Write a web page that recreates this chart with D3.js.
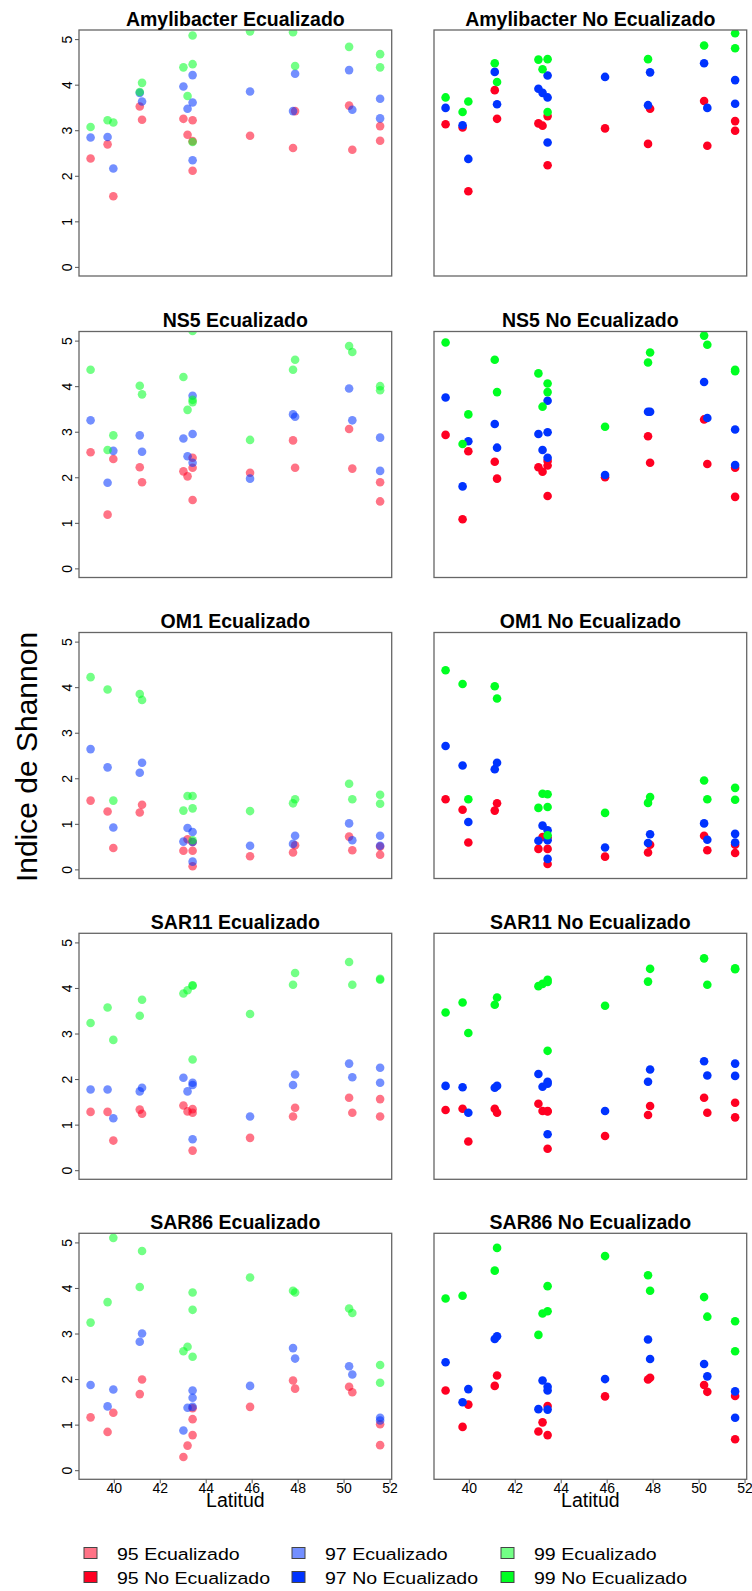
<!DOCTYPE html>
<html lang="en">
  <head>
    <meta charset="utf-8" />
    <title>Indice de Shannon por latitud</title>
    <script src="https://cdnjs.cloudflare.com/ajax/libs/d3/7.8.5/d3.min.js"></script>
    <style>
      body { margin: 0; background: #fff; }
      svg text { font-family: "Liberation Sans", Arial, sans-serif; fill: #000; }
      .box { fill: none; stroke: #666; stroke-width: 1.3px; }
      .title { font-weight: bold; font-size: 19.5px; }
      .axis text { font-size: 14px; }
      .axis line { stroke: #555; }
      .axis .domain { display: none; }
    </style>
  </head>
  <body>
    <svg id="chart" width="752" height="1591"></svg>
    <script>
      // station latitudes (same for every panel)
      const lat = [38.99, 39.73, 39.98, 41.13, 41.23, 43.03, 43.21, 43.43, 43.43, 43.43,
                   45.93, 47.8, 47.89, 50.24, 50.38, 51.59, 51.59];
      const groups = ["Amylibacter", "NS5", "OM1", "SAR11", "SAR86"];
      const modes = ["Ecualizado", "No Ecualizado"];
      const levels = ["95", "97", "99"];
      const yTicks = [0, 1, 2, 3, 4, 5];
      const xTicks = [40, 42, 44, 46, 48, 50, 52];

      // Amylibacter
      const amyEq95 = [2.38, 2.69, 1.55, 3.52, 3.23, 3.25, 2.90, 3.22, 2.11, 2.76, 2.88, 2.61, 3.42, 3.54, 2.57, 3.09, 2.77];
      const amyEq97 = [2.84, 2.85, 2.16, 3.82, 3.63, 3.96, 3.47, 4.21, 3.61, 2.34, 3.85, 3.42, 4.24, 4.32, 3.45, 3.69, 3.26];
      const amyEq99 = [3.07, 3.22, 3.17, 3.84, 4.04, 4.38, 3.75, 5.08, 4.45, 2.74, 5.17, 5.15, 4.41, 4.83, null, 4.67, 4.38];
      const amyNo95 = [3.13, 3.06, 1.66, 3.88, 3.25, 3.15, 3.10, 3.31, 2.23, null, 3.04, 2.70, 3.47, 3.64, 2.66, 3.20, 2.99];
      const amyNo97 = [3.49, 3.11, 2.37, 4.28, 3.57, 3.91, 3.82, 4.20, 3.72, 2.73, 4.17, 3.55, 4.27, 4.47, 3.49, 4.10, 3.58];
      const amyNo99 = [3.72, 3.40, 3.63, 4.47, 4.06, 4.55, 4.34, 4.56, 3.40, null, null, 4.56, null, 4.86, null, 5.13, 4.80];
      // NS5
      const ns5Eq95 = [2.55, 1.18, 2.40, 2.22, 1.89, 2.13, 2.02, 2.43, 2.21, 1.50, 2.10, 2.81, 2.21, 3.06, 2.19, 1.89, 1.47];
      const ns5Eq97 = [3.25, 1.88, 2.58, 2.92, 2.56, 2.85, 2.46, 3.79, 2.95, 2.32, 1.97, 3.38, 3.33, 3.95, 3.25, 2.87, 2.14];
      const ns5Eq99 = [4.36, 2.60, 2.92, 4.01, 3.82, 4.20, 3.48, 5.21, 3.70, 3.65, 2.82, 4.36, 4.58, 4.88, 4.75, 4.00, 3.91];
      const ns5No95 = [2.93, 1.08, 2.57, 2.34, 1.97, 2.22, 2.12, 2.36, 2.26, 1.59, 2.00, 2.90, 2.32, 3.27, 2.29, 2.21, 1.57];
      const ns5No97 = [3.75, 1.80, 2.79, 3.17, 2.65, 2.95, 2.60, 3.68, 2.99, 2.43, 2.05, 3.44, 3.44, 4.09, 3.30, 3.05, 2.27];
      const ns5No99 = [4.96, 2.73, 3.38, 4.58, 3.87, 4.28, 3.55, 4.06, 3.87, null, 3.11, 4.52, 4.74, 5.11, 4.91, 4.36, 4.33];
      // OM1
      const om1Eq95 = [1.51, 1.27, 0.47, 1.25, 1.42, 0.41, 0.66, 0.41, 0.07, 0.60, 0.29, 0.37, 0.53, 0.72, 0.42, 0.50, 0.32];
      const om1Eq97 = [2.64, 2.24, 0.92, 2.12, 2.34, 0.61, 0.91, 0.82, 0.17, 0.60, 0.52, 0.56, 0.74, 1.01, 0.64, 0.74, 0.52];
      const om1Eq99 = [4.22, 3.95, 1.51, 3.85, 3.72, 1.29, 1.61, 1.61, 1.34, 0.64, 1.28, 1.45, 1.54, 1.88, 1.54, 1.64, 1.44];
      const om1No95 = [1.54, 1.31, 0.59, 1.29, 1.45, 0.45, 0.71, 0.45, 0.12, 0.70, 0.28, 0.37, 0.54, 0.74, 0.42, 0.54, 0.36];
      const om1No97 = [2.71, 2.28, 1.04, 2.20, 2.34, 0.63, 0.96, 0.86, 0.23, 0.64, 0.48, 0.58, 0.77, 1.01, 0.65, 0.78, 0.59];
      const om1No99 = [4.37, 4.07, 1.54, 4.02, 3.75, 1.35, 1.66, 1.65, 1.37, 0.75, 1.24, 1.46, 1.59, 1.95, 1.54, 1.79, 1.53];
      // SAR11
      const sar11Eq95 = [1.28, 1.28, 0.65, 1.33, 1.24, 1.42, 1.29, 1.34, 1.26, 0.43, 0.71, 1.18, 1.37, 1.59, 1.26, 1.56, 1.18];
      const sar11Eq97 = [1.77, 1.77, 1.14, 1.73, 1.81, 2.03, 1.73, 1.92, 1.87, 0.68, 1.18, 1.87, 2.10, 2.34, 2.04, 2.25, 1.92];
      const sar11Eq99 = [3.23, 3.57, 2.86, 3.39, 3.74, 3.88, 3.95, 4.06, 4.05, 2.43, 3.43, 4.07, 4.33, 4.57, 4.07, 4.20, 4.18];
      const sar11No95 = [1.32, 1.35, 0.63, 1.35, 1.26, 1.46, 1.30, 1.30, 1.29, 0.47, 0.75, 1.21, 1.41, 1.59, 1.26, 1.48, 1.16];
      const sar11No97 = [1.85, 1.82, 1.26, 1.81, 1.85, 2.11, 1.83, 1.94, 1.90, 0.79, 1.30, 1.94, 2.21, 2.39, 2.08, 2.34, 2.07];
      const sar11No99 = [3.46, 3.68, 3.01, 3.63, 3.79, 4.04, 4.09, 4.18, 4.13, 2.62, 3.61, 4.14, 4.42, 4.65, 4.07, 4.43, 4.41];
      // SAR86
      const sar86Eq95 = [1.16, 0.84, 1.26, 1.67, 1.99, 0.29, 0.54, 1.36, 1.12, 0.77, 1.39, 1.97, 1.79, 1.83, 1.71, 1.01, 0.55];
      const sar86Eq97 = [1.87, 1.40, 1.77, 2.82, 3.00, 0.87, 1.37, 1.75, 1.59, 1.39, 1.85, 2.68, 2.45, 2.28, 2.10, 1.15, 1.09];
      const sar86Eq99 = [3.24, 3.69, 5.10, 4.02, 4.81, 2.61, 2.71, 3.90, 3.52, 2.49, 4.23, 3.94, 3.90, 3.55, 3.45, 2.31, 1.92];
      const sar86No95 = [1.75, 0.95, 1.44, 1.85, 2.08, 0.85, 1.05, 1.41, 0.77, null, 1.62, 1.99, 2.03, 1.87, 1.72, 1.63, 0.68];
      const sar86No97 = [2.37, 1.49, 1.78, 2.88, 2.94, 1.34, 1.97, 1.83, 1.75, 1.33, 2.00, 2.87, 2.44, 2.33, 2.06, 1.73, 1.15];
      const sar86No99 = [3.77, 3.83, null, 4.38, 4.88, 2.97, 3.44, 4.04, 3.49, null, 4.70, 4.28, 3.94, 3.80, 3.37, 3.27, 2.61];

      // panel table: row = group, col = mode, series = [95, 97, 99]
      const panelSeries = [
        [[amyEq95, amyEq97, amyEq99], [amyNo95, amyNo97, amyNo99]],
        [[ns5Eq95, ns5Eq97, ns5Eq99], [ns5No95, ns5No97, ns5No99]],
        [[om1Eq95, om1Eq97, om1Eq99], [om1No95, om1No97, om1No99]],
        [[sar11Eq95, sar11Eq97, sar11Eq99], [sar11No95, sar11No97, sar11No99]],
        [[sar86Eq95, sar86Eq97, sar86Eq99], [sar86No95, sar86No97, sar86No99]],
      ];

      const colors = ["#ff0022", "#0033ff", "#00ff22"];
      const eqOpacity = 0.55;

      const svg = d3.select("#chart");
      const boxW = 312.7, boxH = 246;
      const colX = [79, 434];
      const rowY = [30, 331.5, 632.5, 933.3, 1233.3];

      // R style axis extension (4%)
      const ext = d3.extent(lat);
      const pad = (ext[1] - ext[0]) * 0.04;
      const xDomain = [ext[0] - pad, ext[1] + pad];
      const yDomain = [-0.2, 5.2];

      groups.forEach((g, r) => {
        modes.forEach((m, c) => {
          const x0 = colX[c], y0 = rowY[r];
          const x = d3.scaleLinear().domain(xDomain).range([x0, x0 + boxW]);
          const y = d3.scaleLinear().domain(yDomain).range([y0 + boxH, y0]);
          const id = "clip" + r + "_" + c;

          svg.append("clipPath").attr("id", id)
            .append("rect")
            .attr("x", x0).attr("y", y0).attr("width", boxW).attr("height", boxH);

          const pts = svg.append("g").attr("clip-path", "url(#" + id + ")");
          panelSeries[r][c].forEach((vals, s) => {
            const data = vals.map((v, i) => ({ lat: lat[i], v: v })).filter((d) => d.v != null);
            pts.append("g")
              .selectAll("circle")
              .data(data)
              .join("circle")
              .attr("cx", (d) => x(d.lat))
              .attr("cy", (d) => y(d.v))
              .attr("r", 4.3)
              .attr("fill", colors[s])
              .attr("fill-opacity", c === 0 ? eqOpacity : 1);
          });

          svg.append("rect").attr("class", "box")
            .attr("x", x0).attr("y", y0).attr("width", boxW).attr("height", boxH);

          svg.append("text").attr("class", "title")
            .attr("x", x0 + boxW / 2).attr("y", y0 - 4.5)
            .attr("text-anchor", "middle")
            .text(g + " " + m);

          // y axis only on the left column
          if (c === 0) {
            svg.append("g").attr("class", "axis")
              .attr("transform", `translate(${x0},0)`)
              .call(d3.axisLeft(y).tickValues(yTicks).tickSize(4).tickFormat(d3.format("d")))
              .call((a) => a.selectAll(".tick text")
                .attr("transform", "rotate(-90)")
                .attr("x", 0).attr("y", -7.5).attr("dy", null)
                .attr("text-anchor", "middle"));
          }

          // x axis only on the bottom row
          if (r === groups.length - 1) {
            svg.append("g").attr("class", "axis")
              .attr("transform", `translate(0,${y0 + boxH})`)
              .call(d3.axisBottom(x).tickValues(xTicks).tickSize(4).tickFormat(d3.format("d")))
              .call((a) => a.selectAll(".tick text").attr("y", 14).attr("dy", null));

            svg.append("text")
              .attr("x", x0 + boxW / 2).attr("y", 1507)
              .attr("text-anchor", "middle")
              .style("font-size", "19.5px")
              .text("Latitud");
          }
        });
      });

      // y label
      svg.append("text")
        .attr("transform", "translate(37,757) rotate(-90)")
        .attr("text-anchor", "middle")
        .style("font-size", "30px")
        .text("Indice de Shannon");

      // legend
      const legendCols = [84, 292, 501];
      const legendRows = [1553, 1577];
      levels.forEach((lv, s) => {
        modes.forEach((m, k) => {
          const lg = svg.append("g")
            .attr("transform", `translate(${legendCols[s]},${legendRows[k]})`);
          lg.append("rect")
            .attr("x", 0).attr("y", -5.5).attr("width", 13).attr("height", 11)
            .attr("fill", colors[s])
            .attr("fill-opacity", k === 0 ? eqOpacity : 1)
            .attr("stroke", "#444").attr("stroke-width", 1);
          lg.append("text")
            .attr("transform", "translate(33,6.5) scale(1.15,1)")
            .style("font-size", "17px")
            .text(lv + " " + m);
        });
      });
    </script>
  </body>
</html>
